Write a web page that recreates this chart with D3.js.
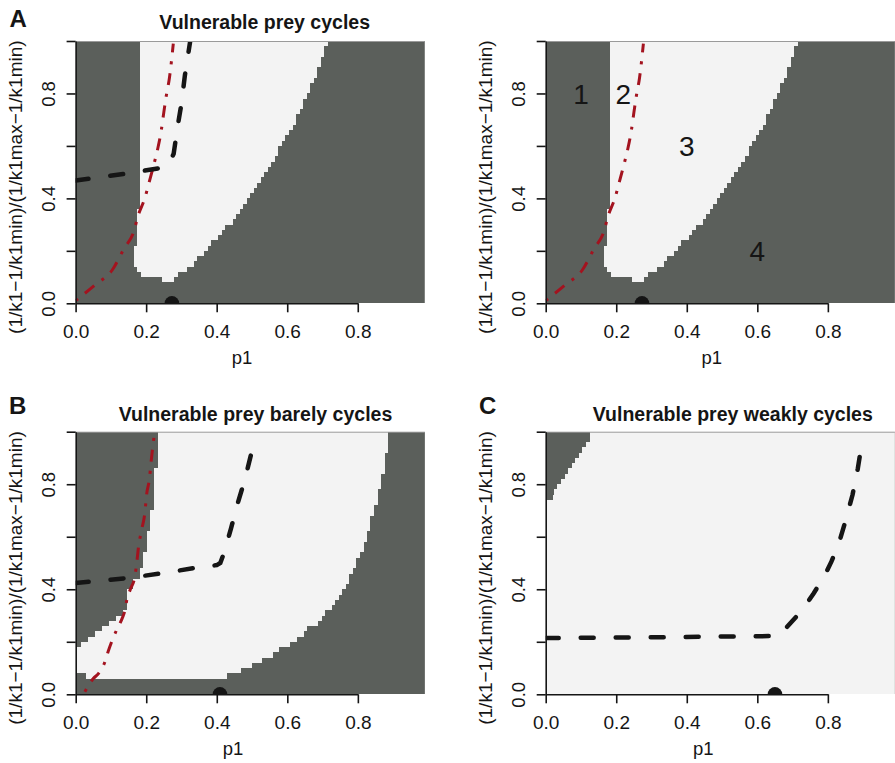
<!DOCTYPE html>
<html>
<head>
<meta charset="utf-8">
<script src="https://cdnjs.cloudflare.com/ajax/libs/d3/7.8.5/d3.min.js"></script>
<style>
    body { margin: 0; background: #fff; }
    svg { display: block; font-family: 'Liberation Sans', Arial, Helvetica, sans-serif; }
</style>
</head>
<body>
<div id="vis"></div>
<script>
/* Stability maps of p1 against the scaled k1 axis, three scenarios (A, B, C) */

// Axes
var xTicks = [0, 0.2, 0.4, 0.6, 0.8];
var yTicks = [0, 0.2, 0.4, 0.6, 0.8, 1.0];
var yTickLabels = ['0.0', '', '0.4', '', '0.8', ''];
var rowStep = 0.02; // each grid row covers 0.02 of the y axis, 50 rows from y = 0
var pMax = 0.99;    // right edge of the grid in p1 units

// Panel A: light (stable) interval of every grid row, bottom row first. null = whole row dark
var lightFromA = [null, null, null, null, 0.245, 0.185, 0.175, 0.165, 0.165, 0.165,
    0.165, 0.175, 0.175, 0.175, 0.175, 0.175, 0.175, 0.175, 0.183, 0.183,
    0.183, 0.183, 0.183, 0.183, 0.183, 0.183, 0.183, 0.183, 0.183, 0.183,
    0.183, 0.183, 0.183, 0.183, 0.183, 0.183, 0.183, 0.183, 0.183, 0.183,
    0.183, 0.183, 0.183, 0.183, 0.183, 0.183, 0.183, 0.183, 0.183, 0.183];
var lightToA = [null, null, null, null, 0.28, 0.29, 0.315, 0.335, 0.345, 0.365,
    0.375, 0.385, 0.405, 0.415, 0.425, 0.445, 0.455, 0.465, 0.475, 0.485,
    0.495, 0.505, 0.515, 0.525, 0.535, 0.545, 0.555, 0.565, 0.575, 0.575,
    0.585, 0.595, 0.605, 0.615, 0.625, 0.625, 0.635, 0.645, 0.645, 0.655,
    0.665, 0.665, 0.675, 0.685, 0.685, 0.695, 0.695, 0.705, 0.705, 0.715];

// Panel B
var lightFromB = [null, null, null, 0.03, 0, 0, 0, 0, 0.005, 0.015,
    0.035, 0.055, 0.075, 0.095, 0.115, 0.135, 0.145, 0.145, 0.145, 0.145,
    0.162, 0.162, 0.182, 0.182, 0.191, 0.191, 0.191, 0.201, 0.201, 0.201,
    0.201, 0.211, 0.211, 0.211, 0.211, 0.222, 0.222, 0.222, 0.222, 0.222,
    0.222, 0.222, 0.222, 0.232, 0.232, 0.232, 0.232, 0.232, 0.232, 0.232];
var lightToB = [null, null, null, 0.428, 0.468, 0.499, 0.528, 0.558, 0.577, 0.608,
    0.627, 0.647, 0.657, 0.686, 0.697, 0.707, 0.726, 0.736, 0.746, 0.755,
    0.766, 0.775, 0.775, 0.786, 0.795, 0.795, 0.806, 0.816, 0.816, 0.826,
    0.826, 0.835, 0.835, 0.835, 0.845, 0.845, 0.856, 0.856, 0.856, 0.865,
    0.865, 0.865, 0.876, 0.876, 0.876, 0.876, 0.885, 0.885, 0.885, 0.885];

// Panel C: light from here to the right edge
var lightFromC = [0, 0, 0, 0, 0, 0, 0, 0, 0, 0,
    0, 0, 0, 0, 0, 0, 0, 0, 0, 0,
    0, 0, 0, 0, 0, 0, 0, 0, 0, 0,
    0, 0, 0, 0, 0, 0, 0, 0.022, 0.024, 0.033,
    0.043, 0.054, 0.064, 0.075, 0.084, 0.094, 0.104, 0.114, 0.125, 0.125];

// Black dashed curves
var curveA_p1 = [0, 0.15, 0.25, 0.262, 0.278, 0.29, 0.30, 0.31, 0.325];
var curveA_y = [0.468, 0.496, 0.518, 0.525, 0.57, 0.68, 0.76, 0.87, 1.0];
var curveB_p1 = [0, 0.15, 0.25, 0.35, 0.40, 0.41, 0.422, 0.44, 0.46, 0.48, 0.503];
var curveB_y = [0.424, 0.443, 0.462, 0.484, 0.492, 0.50, 0.544, 0.63, 0.73, 0.82, 0.945];
var curveC_p1 = [0, 0.3, 0.655, 0.67, 0.70, 0.73, 0.76, 0.79, 0.81, 0.83, 0.85, 0.87, 0.885, 0.895];
var curveC_y = [0.214, 0.217, 0.222, 0.235, 0.28, 0.325, 0.385, 0.45, 0.505, 0.57, 0.66, 0.76, 0.86, 0.945];

// Red dot-dash curves
var redA_p1 = [0, 0.055, 0.104, 0.138, 0.164, 0.178, 0.196, 0.209, 0.222, 0.233, 0.243, 0.25, 0.257, 0.266, 0.277];
var redA_y = [0.01, 0.07, 0.127, 0.21, 0.27, 0.337, 0.40, 0.464, 0.53, 0.59, 0.66, 0.727, 0.79, 0.859, 0.99];
var redB_p1 = [0.026, 0.05, 0.065, 0.083, 0.092, 0.104, 0.116, 0.132, 0.14, 0.145, 0.155, 0.168, 0.173, 0.178, 0.187, 0.196, 0.201, 0.209, 0.214, 0.222];
var redB_y = [0.01, 0.06, 0.08, 0.124, 0.163, 0.207, 0.245, 0.29, 0.322, 0.36, 0.40, 0.45, 0.50, 0.56, 0.627, 0.69, 0.76, 0.82, 0.888, 0.98];

// Equilibrium points on the p1 axis
var dotA = 0.273;
var dotB = 0.409;
var dotC = 0.65;

// Region numbers in the second copy of panel A
var regionLabels = ['1', '2', '3', '4'];
var regionP1 = [0.1, 0.22, 0.40, 0.60];
var regionY = [0.8, 0.8, 0.6, 0.2];

var darkFill = '#5b5f5b';
var lightFill = '#f3f3f3';
var redLine = '#a3131f';
var ink = '#151515';

var width = 895;
var height = 763;
var unit = 352.7; // px per 1.0 of p1

var svg = d3.select('#vis')
    .append('svg')
    .attr('width', width)
    .attr('height', height);

var zip = function(a, b) {
    return a.map(function(v, i) { return [v, b[i]]; });
};

var drawPanel = function(cfg) {
    var xScale = d3.scaleLinear().domain([0, 0.8]).range([cfg.x0, cfg.x0 + 0.8 * unit]);
    var yScale = d3.scaleLinear().domain([0, 1]).range([cfg.bottom, cfg.top]);

    var clipId = 'clip' + cfg.id;
    svg.append('clipPath').attr('id', clipId)
        .append('rect')
        .attr('x', xScale(0))
        .attr('y', yScale(1))
        .attr('width', xScale(pMax) - xScale(0))
        .attr('height', yScale(0) - yScale(1));

    var g = svg.append('g');
    var plot = g.append('g').attr('clip-path', 'url(#' + clipId + ')');

    // dark grid first, light rows on top
    plot.append('rect')
        .attr('x', xScale(0))
        .attr('y', yScale(1))
        .attr('width', xScale(pMax) - xScale(0))
        .attr('height', yScale(0) - yScale(1))
        .attr('fill', darkFill)
        .attr('shape-rendering', 'crispEdges');

    var rows = cfg.lightFrom.map(function(from, i) {
        return {
            y0: i * rowStep,
            from: from,
            to: cfg.lightTo ? cfg.lightTo[i] : pMax
        };
    }).filter(function(d) { return d.from !== null; });

    plot.selectAll('rect.cell')
        .data(rows)
        .enter().append('rect')
        .attr('class', 'cell')
        .attr('x', function(d) { return xScale(d.from); })
        .attr('width', function(d) { return xScale(d.to) - xScale(d.from); })
        .attr('y', function(d) { return yScale(d.y0 + rowStep); })
        .attr('height', function(d) { return yScale(d.y0) - yScale(d.y0 + rowStep); })
        .attr('fill', lightFill)
        .attr('shape-rendering', 'crispEdges');

    // thin frame line along the top of the grid
    g.append('line')
        .attr('x1', xScale(0)).attr('x2', xScale(pMax))
        .attr('y1', yScale(1) + 0.5).attr('y2', yScale(1) + 0.5)
        .attr('stroke', '#9a9a9a')
        .attr('stroke-width', 1);

    var line = d3.line()
        .x(function(d) { return xScale(d[0]); })
        .y(function(d) { return yScale(d[1]); });

    if (cfg.red) {
        plot.append('path')
            .attr('d', line.curve(d3.curveMonotoneX)(cfg.red))
            .attr('fill', 'none')
            .attr('stroke', redLine)
            .attr('stroke-width', 3)
            .attr('stroke-dasharray', '3,9,12,9');
    }

    if (cfg.curve) {
        plot.append('path')
            .attr('d', line.curve(d3.curveLinear)(cfg.curve))
            .attr('fill', 'none')
            .attr('stroke', ink)
            .attr('stroke-width', 4.5)
            .attr('stroke-linecap', 'round')
            .attr('stroke-dasharray', '13,22');
    }

    plot.append('circle')
        .attr('cx', xScale(cfg.dot))
        .attr('cy', yScale(0))
        .attr('r', 7.3)
        .attr('fill', ink);

    if (cfg.regions) {
        g.selectAll('text.region')
            .data(regionLabels)
            .enter().append('text')
            .attr('class', 'region')
            .attr('x', function(d, i) { return xScale(regionP1[i]); })
            .attr('y', function(d, i) { return yScale(regionY[i]); })
            .attr('dy', '0.36em')
            .attr('text-anchor', 'middle')
            .attr('font-size', 28)
            .attr('fill', ink)
            .text(function(d) { return d; });
    }

    // x axis
    var xAxis = d3.axisBottom(xScale)
        .tickValues(xTicks)
        .tickFormat(d3.format('.1f'))
        .tickSize(9)
        .tickSizeOuter(0);
    var xAxisG = g.append('g')
        .attr('transform', 'translate(0,' + yScale(0) + ')')
        .call(xAxis);
    xAxisG.selectAll('text')
        .attr('y', 34.4)
        .attr('dy', 0)
        .attr('font-size', 19)
        .attr('fill', ink);

    // y axis
    var yAxis = d3.axisLeft(yScale)
        .tickValues(yTicks)
        .tickFormat(function(d, i) { return yTickLabels[i]; })
        .tickSize(9)
        .tickSizeOuter(0);
    var yAxisG = g.append('g')
        .attr('transform', 'translate(' + xScale(0) + ',0)')
        .call(yAxis);
    yAxisG.selectAll('text')
        .attr('x', 0)
        .attr('dy', 0)
        .attr('text-anchor', 'middle')
        .attr('transform', 'translate(-20.5,0) rotate(-90)')
        .attr('font-size', 18.5)
        .attr('fill', ink);

    [xAxisG, yAxisG].forEach(function(a) {
        a.attr('font-family', null).attr('font-size', null);
        a.select('.domain').attr('stroke', ink).attr('stroke-width', 1.6);
        a.selectAll('.tick line').attr('stroke', ink).attr('stroke-width', 1.6);
    });

    // axis titles
    g.append('text')
        .attr('x', xScale(0) + cfg.xLabelDx)
        .attr('y', yScale(0) + 61)
        .attr('text-anchor', 'middle')
        .attr('font-size', 18.5)
        .attr('fill', ink)
        .text('p1');

    g.append('text')
        .attr('transform', 'translate(' + (xScale(0) - 53.6) + ',' + ((yScale(0) + yScale(1)) / 2 + 15) + ') rotate(-90)')
        .attr('text-anchor', 'middle')
        .attr('font-size', 19)
        .attr('fill', ink)
        .text('(1/k1\u22121/k1min)/(1/k1max\u22121/k1min)');

    if (cfg.title) {
        g.append('text')
            .attr('x', cfg.titleX)
            .attr('y', cfg.titleY)
            .attr('text-anchor', 'middle')
            .attr('font-size', 19.5)
            .attr('font-weight', 'bold')
            .attr('fill', ink)
            .text(cfg.title);
    }
    if (cfg.letter) {
        g.append('text')
            .attr('x', cfg.letterX)
            .attr('y', cfg.letterY)
            .attr('font-size', 24)
            .attr('font-weight', 'bold')
            .attr('fill', ink)
            .text(cfg.letter);
    }
};

drawPanel({
    id: 'A', x0: 75.6, top: 41, bottom: 303.3,
    lightFrom: lightFromA, lightTo: lightToA,
    curve: zip(curveA_p1, curveA_y), red: zip(redA_p1, redA_y), dot: dotA,
    title: 'Vulnerable prey cycles', titleX: 264.7, titleY: 28.8,
    letter: 'A', letterX: 9.5, letterY: 26.7, xLabelDx: 166.4
});

drawPanel({
    id: 'A2', x0: 545.7, top: 41, bottom: 303.3,
    lightFrom: lightFromA, lightTo: lightToA,
    red: zip(redA_p1, redA_y), dot: dotA, regions: true, xLabelDx: 166
});

drawPanel({
    id: 'B', x0: 75.7, top: 431.7, bottom: 694.3,
    lightFrom: lightFromB, lightTo: lightToB,
    curve: zip(curveB_p1, curveB_y), red: zip(redB_p1, redB_y), dot: dotB,
    title: 'Vulnerable prey barely cycles', titleX: 255.5, titleY: 420.7,
    letter: 'B', letterX: 9, letterY: 414, xLabelDx: 157.4
});

drawPanel({
    id: 'C', x0: 545.7, top: 431.7, bottom: 694.3,
    lightFrom: lightFromC, lightTo: null,
    curve: zip(curveC_p1, curveC_y), dot: dotC,
    title: 'Vulnerable prey weakly cycles', titleX: 732.8, titleY: 420.7,
    letter: 'C', letterX: 479, letterY: 414.3, xLabelDx: 157.6
});
</script>
</body>
</html>
